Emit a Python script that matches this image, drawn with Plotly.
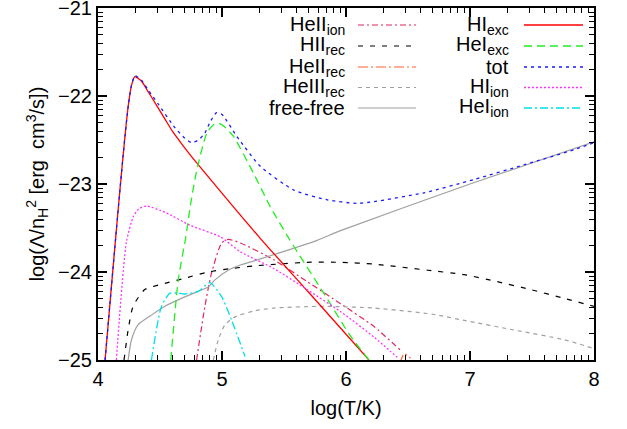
import numpy as np
import plotly.graph_objects as go

# ---------------- data (log T, log Lambda/nH^2) ----------------
hi_exc_t = [4.057, 4.10, 4.137, 4.178, 4.218, 4.245, 4.27, 4.297, 4.35, 4.404, 4.47, 4.539, 4.60, 4.673, 4.75, 4.808, 5.31, 5.686, 6.185]
hi_exc_v = [-25.0, -24.3, -23.7, -23.05, -22.45, -22.1, -21.88, -21.78, -21.83, -21.95, -22.10, -22.26, -22.40, -22.54, -22.68, -22.78, -23.62, -24.21, -25.0]

tot_t = [4.057, 4.10, 4.137, 4.178, 4.218, 4.245, 4.27, 4.297, 4.35, 4.404, 4.485, 4.62, 4.70, 4.754, 4.81,
         4.862, 4.91, 4.956, 5.0, 5.12, 5.31, 5.58, 5.85, 6.09, 6.226, 6.63, 7.03, 7.44, 7.84, 8.0]
tot_v = [-25.0, -24.3, -23.7, -23.05, -22.45, -22.1, -21.88, -21.77, -21.82, -21.93, -22.09, -22.36, -22.48, -22.53, -22.50,
         -22.42, -22.28, -22.19, -22.21, -22.46, -22.80, -23.07, -23.18, -23.22, -23.20, -23.10, -22.95, -22.78, -22.61, -22.53]

hei_exc_t = [4.587, 4.647, 4.706, 4.75, 4.797, 4.878, 4.93, 4.972, 5.02, 5.093, 5.255, 5.39, 5.540, 5.82, 6.037, 6.185]
hei_exc_v = [-25.0, -24.09, -23.62, -23.2, -22.84, -22.42, -22.33, -22.31, -22.35, -22.46, -22.88, -23.26, -23.62, -24.24, -24.73, -25.0]

hi_ion_t = [4.148, 4.229, 4.285, 4.33, 4.393, 4.501, 4.555, 4.744, 4.986, 5.148, 5.417, 5.687, 5.956, 6.226, 6.414]
hi_ion_v = [-25.0, -23.66, -23.37, -23.28, -23.25, -23.30, -23.33, -23.47, -23.60, -23.77, -23.96, -24.20, -24.45, -24.74, -24.97]

hei_ion_t = [4.431, 4.512, 4.58, 4.64, 4.70, 4.808, 4.902, 4.997, 5.078, 5.186]
hei_ion_v = [-25.0, -24.39, -24.24, -24.24, -24.25, -24.22, -24.12, -24.28, -24.55, -24.96]

heii_ion_t = [4.795, 4.862, 4.916, 4.997, 5.05, 5.148, 5.417, 5.687, 5.956, 6.226, 6.44]
heii_ion_v = [-25.0, -24.39, -24.01, -23.67, -23.63, -23.67, -23.86, -24.11, -24.36, -24.62, -24.89]

heii_rec_t = [6.43, 6.47, 6.52]
heii_rec_v = [-25.05, -24.93, -24.98]

hii_rec_t = [4.21, 4.243, 4.283, 4.377, 4.539, 4.70, 4.889, 5.078, 5.266, 5.687, 5.956, 6.226, 6.66, 6.953, 7.22, 7.49, 7.76, 8.0]
hii_rec_v = [-25.0, -24.66, -24.39, -24.20, -24.13, -24.07, -24.00, -23.96, -23.93, -23.89, -23.89, -23.91, -23.98, -24.03, -24.11, -24.20, -24.30, -24.39]

heiii_rec_t = [4.93, 4.97, 5.024, 5.105, 5.266, 5.417, 5.82, 6.226, 6.70, 6.953, 7.357, 7.76, 8.0]
heiii_rec_v = [-25.0, -24.77, -24.60, -24.51, -24.44, -24.41, -24.39, -24.41, -24.48, -24.55, -24.66, -24.77, -24.87]

ff_t = [4.243, 4.27, 4.323, 4.431, 4.539, 4.673, 4.808, 4.889, 4.943, 5.05, 5.148, 5.266, 5.767, 5.956, 7.0, 8.0]
ff_v = [-25.0, -24.77, -24.60, -24.49, -24.39, -24.30, -24.22, -24.17, -24.09, -23.98, -23.92, -23.87, -23.64, -23.53, -23.0, -22.52]

x_ticks = [4, 5, 6, 7, 8]
y_ticks = [-25, -24, -23, -22, -21]

# ---------------- styles ----------------
series = [
    # label, t, v, color, dash, width, legend column, legend row
    ("HeII<sub>ion</sub>", heii_ion_t, heii_ion_v, "#e0285a", "6px,3px,2px,3px", 1.2, 0, 0),
    ("HII<sub>rec</sub>", hii_rec_t, hii_rec_v, "#000000", "5px,7px", 1.2, 0, 1),
    ("HeII<sub>rec</sub>", heii_rec_t, heii_rec_v, "#ff6030", "10px,3px,2px,3px", 1.2, 0, 2),
    ("HeIII<sub>rec</sub>", heiii_rec_t, heiii_rec_v, "#a0a0a0", "4px,4px", 1.2, 0, 3),
    ("free-free", ff_t, ff_v, "#a0a0a0", "solid", 1.2, 0, 4),
    ("HI<sub>exc</sub>", hi_exc_t, hi_exc_v, "#ff0000", "solid", 1.3, 1, 0),
    ("HeI<sub>exc</sub>", hei_exc_t, hei_exc_v, "#22ee22", "8px,5px", 1.3, 1, 1),
    ("tot", tot_t, tot_v, "#1a1aff", "3px,4px", 1.3, 1, 2),
    ("HI<sub>ion</sub>", hi_ion_t, hi_ion_v, "#ff33ff", "2px,2px", 1.3, 1, 3),
    ("HeI<sub>ion</sub>", hei_ion_t, hei_ion_v, "#00e0e8", "8px,3px,2px,3px", 1.3, 1, 4),
]

FONT = "Liberation Sans, Arial, sans-serif"
fig = go.Figure()

# pixel -> paper helpers for legend layout
L, R, T, B = 98, 594, 8, 360
W, H = R - L, B - T
def px(x):
    return (x - L) / W
def py(y):
    return (B - y) / H

row_y = [25, 46, 67, 87.5, 108]
text_right = [347, 511]
samp = [(358, 416), (524, 583)]

for name, t, v, color, dash, width, col, row in series:
    fig.add_trace(go.Scatter(x=t, y=v, mode="lines", showlegend=False, cliponaxis=True,
                             line=dict(color=color, dash=dash, width=width, shape="spline", smoothing=0.6)))
    yy = py(row_y[row])
    fig.add_shape(type="line", xref="paper", yref="paper",
                  x0=px(samp[col][0]), x1=px(samp[col][1]), y0=yy, y1=yy,
                  line=dict(color=color, dash=dash, width=width))
    fig.add_annotation(xref="paper", yref="paper", x=px(text_right[col]), y=yy,
                       xanchor="right", yanchor="middle", showarrow=False,
                       text=name, font=dict(family=FONT, size=20, color="black"))

minor_x = [d + np.log10(k) for d in range(4, 8) for k in range(2, 10)]
minor_y = [d + np.log10(k) for d in range(-25, -21) for k in range(2, 10)]

fig.update_layout(
    width=627, height=429,
    margin=dict(l=L, r=627 - R, t=T, b=429 - B, autoexpand=False),
    paper_bgcolor="white", plot_bgcolor="white",
    font=dict(family=FONT, size=20, color="black"),
    xaxis=dict(range=[4, 8], tickvals=x_ticks, ticks="inside", ticklen=9, tickwidth=1.5,
               tickcolor="black", showline=True, linewidth=2, linecolor="black", mirror="allticks",
               showgrid=False, zeroline=False, ticklabeloverflow="allow", automargin=False,
               minor=dict(tickmode="array", tickvals=minor_x, ticks="inside", ticklen=5,
                          tickwidth=1.2, tickcolor="black", showgrid=False),
               title=dict(text="log(T/K)", font=dict(size=20), standoff=12)),
    yaxis=dict(range=[-25, -21], tickvals=y_ticks, ticks="inside", ticklen=9, tickwidth=1.5,
               tickcolor="black", showline=True, linewidth=2, linecolor="black", mirror="allticks",
               showgrid=False, zeroline=False, ticklabeloverflow="allow", automargin=False,
               minor=dict(tickmode="array", tickvals=minor_y, ticks="inside", ticklen=5,
                          tickwidth=1.2, tickcolor="black", showgrid=False),
               title=dict(text="log(Λ/n<sub>H</sub><sup>2</sup> [erg  cm<sup>3</sup>/s])",
                          font=dict(size=20), standoff=8)),
)

fig.write_html("out.html")
